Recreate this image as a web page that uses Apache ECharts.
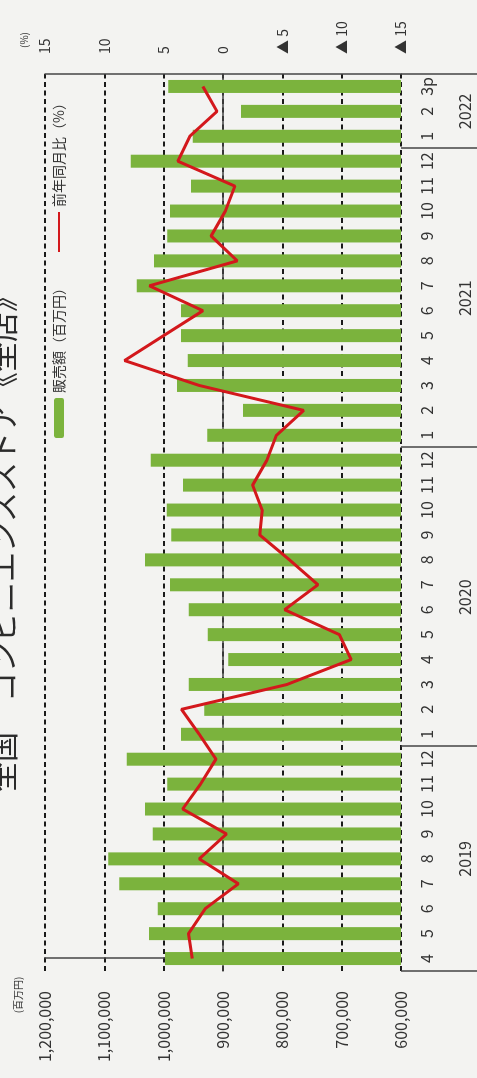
<!DOCTYPE html>
<html>
<head>
<meta charset="utf-8">
<script src="https://cdn.jsdelivr.net/npm/echarts@6/dist/echarts.min.js"></script>
<style>
  html, body { margin: 0; padding: 0; width: 477px; height: 1078px; overflow: hidden; background: #f3f3f1; }
  /* the chart is laid out landscape and turned a quarter to the left, like the scan */
  #main { position: absolute; left: 0; top: 0; width: 1078px; height: 477px;
          transform-origin: 0 0; transform: translate(0, 1078px) rotate(-90deg); }
</style>
</head>
<body>
<div id="main"></div>
<script>
// 2019/4 - 2022/3 (p = 速報)
var months = ['4','5','6','7','8','9','10','11','12',
              '1','2','3','4','5','6','7','8','9','10','11','12',
              '1','2','3','4','5','6','7','8','9','10','11','12',
              '1','2','3p'];
var years = ['2019', '2020', '2021', '2022'];
var yearMonths = [9, 12, 12, 3];

// 販売額（百万円）
var sales = [997800, 1024700, 1010100, 1074800, 1093300, 1018500, 1031500, 993800, 1062400,
             970800, 931500, 957900, 891000, 925900, 957900, 989300, 1031500, 987100, 994900, 967400, 1021900,
             926400, 866300, 977500, 959500, 970800, 970800, 1045500, 1016300, 993800, 989300, 954000, 1055600,
             951100, 869700, 992200];
// 前年同月比（%）
var yoy = [2.6, 2.9, 1.5, -1.3, 2.0, -0.3, 3.4, 1.9, 0.6,
           2.0, 3.5, -5.4, -10.8, -9.8, -5.2, -8.0, -5.6, -3.1, -3.3, -2.5, -3.7,
           -4.5, -6.8, 2.0, 8.3, 5.0, 1.7, 6.2, -1.2, 1.0, -0.2, -1.0, 3.8,
           2.8, 0.5, 1.7];

var salesMin = 600000, salesMax = 1200000, salesStep = 100000;
var pctMin = -15, pctMax = 15, pctStep = 5;

// year dividers and year label centres, in category units
var yearEdges = [-0.5], yearCenters = [];
var acc = -0.5;
for (var i = 0; i < yearMonths.length; i++) {
    yearCenters.push(acc + yearMonths[i] / 2);
    acc += yearMonths[i];
    yearEdges.push(acc);
}

var FONT = '"Noto Sans CJK JP", "Noto Sans", sans-serif';
var INK = '#333';

var myChart = echarts.init(document.getElementById('main'));
var option = {
    backgroundColor: '#f3f3f1',
    animation: false,
    textStyle: { fontFamily: FONT },
    title: {
        text: '全国　コンビニエンスストア《全店》',
        left: 286,
        top: -12,
        padding: 0,
        textStyle: { fontFamily: FONT, fontSize: 30, fontWeight: 'normal', color: '#2b2b2b' }
    },
    legend: {
        left: 640,
        top: 52,
        padding: 0,
        itemWidth: 40,
        itemHeight: 10,
        itemGap: 28,
        textStyle: { fontFamily: FONT, fontSize: 14, color: INK },
        data: [
            { name: '販売額（百万円）' },
            { name: '前年同月比（%）', itemStyle: { opacity: 0 } }  // line only, no dot
        ]
    },
    grid: { left: 107, right: 74, top: 45, bottom: 76 },
    xAxis: [{
        type: 'category',
        position: 'bottom',
        data: months,
        axisLine: { show: true, lineStyle: { color: '#444', width: 1.5 } },
        axisTick: { show: false },
        axisLabel: { interval: 0, margin: 18, fontSize: 16, color: INK, fontFamily: FONT }
    }, {
        // year row below the months
        type: 'value',
        position: 'bottom',
        min: -0.5,
        max: months.length - 0.5,
        axisLine: { show: false },
        splitLine: { show: false },
        axisTick: {
            show: true,
            customValues: yearEdges,
            length: 76,
            lineStyle: { color: '#444', width: 1.5 }
        },
        axisLabel: {
            customValues: yearCenters,
            margin: 56,
            fontSize: 16,
            color: INK,
            fontFamily: FONT,
            formatter: function (v) {
                for (var k = 0; k < yearCenters.length; k++) {
                    if (Math.abs(yearCenters[k] - v) < 0.01) return years[k];
                }
                return '';
            }
        }
    }],
    yAxis: [{
        type: 'value',
        min: salesMin,
        max: salesMax,
        interval: salesStep,
        name: '(百万円)',
        nameLocation: 'end',
        nameGap: 22,
        nameTextStyle: { fontSize: 10, color: INK, align: 'right', padding: [0, 18, 0, 0] },
        axisLine: { show: true, lineStyle: { color: '#444', width: 1.5 } },
        axisTick: { show: false },
        axisLabel: {
            margin: 20, fontSize: 16, color: INK, fontFamily: FONT,
            formatter: function (v) { return String(v).replace(/\B(?=(\d{3})+(?!\d))/g, ','); }
        },
        splitLine: { show: true, lineStyle: { color: '#1a1a1a', width: 2, type: [5, 3.5] } }
    }, {
        type: 'value',
        min: pctMin,
        max: pctMax,
        interval: pctStep,
        position: 'right',
        name: '(%)',
        nameLocation: 'end',
        nameGap: 16,
        nameTextStyle: { fontSize: 10, color: INK, align: 'left', padding: [0, 0, 0, 26] },
        axisLine: { show: true, lineStyle: { color: '#444', width: 1.5 } },
        axisTick: { show: false },
        splitLine: { show: false },
        axisLabel: {
            margin: 20, fontSize: 14, color: INK, fontFamily: FONT,
            formatter: function (v) { return v < 0 ? '▲ ' + (-v) : String(v); }
        }
    }],
    series: [{
        name: '販売額（百万円）',
        type: 'bar',
        barWidth: 13,
        itemStyle: { color: '#7bb33d' },
        data: sales
    }, {
        name: '前年同月比（%）',
        type: 'line',
        yAxisIndex: 1,
        symbol: 'none',
        lineStyle: { color: '#d3181c', width: 3 },
        itemStyle: { color: '#d3181c' },
        data: yoy
    }]
};
myChart.setOption(option);
</script>
</body>
</html>
